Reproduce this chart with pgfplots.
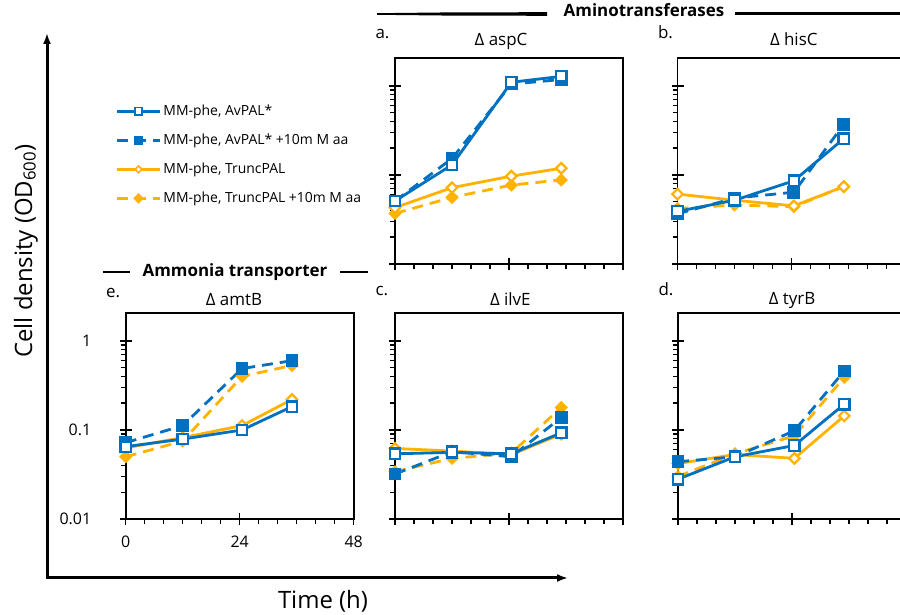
\documentclass[border=0pt]{standalone}
\usepackage{fontspec}
\setmainfont{Open Sans}
\usepackage{pgfplots}
\pgfplotsset{compat=1.18}
\usetikzlibrary{arrows.meta}

\definecolor{cblue}{HTML}{0070C0}
\definecolor{corange}{HTML}{FFB200}

\pgfplotsset{
  every axis/.append style={
    scale only axis, width=228bp, height=206bp,
    xmin=0, xmax=48, ymin=0.01, ymax=2.06,
    xtick={0,24,48}, minor x tick num=5,
    ytick={0.01,0.1,1},
    xtick pos=bottom, ytick pos=left,
    tick align=center, major tick length=12bp, minor tick length=5bp,
    minor x tick style={yshift=-2.5bp},
    minor y tick style={xshift=-2.5bp},
    axis line style={line width=1.8bp},
    tick style={line width=1.4bp, black},
    tick label style={font=\fontsize{16}{18}\selectfont},
    xticklabel style={yshift=-7bp},
    yticklabel style={xshift=-25bp},
    clip=false,
  },
  legend image code/.code={
    \draw[mark repeat=2,mark phase=2,#1] plot coordinates {(0bp,0bp) (21.5bp,0bp) (43bp,0bp)};
  },
  sA/.style={cblue, line width=2.8bp, solid, mark=square*, mark size=5.2bp,
    mark options={solid, fill=white, line width=2.3bp}},
  sB/.style={cblue, line width=2.8bp, dash pattern=on 11bp off 7bp, mark=square*, mark size=5bp,
    mark options={solid, fill=cblue}},
  sC/.style={corange, line width=2.8bp, solid, mark=square*, mark size=3.7bp,
    mark options={solid, rotate=45, fill=white, line width=2.2bp}},
  sD/.style={corange, line width=2.8bp, dash pattern=on 11bp off 7bp, mark=square*, mark size=3.3bp,
    mark options={solid, rotate=45, fill=corange}},
}
\newcommand{\ttl}[3]{\node[font=\fontsize{17}{19}\selectfont, anchor=base] at (axis description cs:#1,1) [yshift=#2] {#3};}
\newcommand{\lbl}[2]{\node[font=\fontsize{17}{19}\selectfont, anchor=base west] at (axis description cs:0,1) [xshift=-23bp, yshift=#1] {#2};}

\begin{document}
\begin{tikzpicture}
\path[use as bounding box] (0,0) rectangle (900bp,615bp);

% e. amtB
\begin{semilogyaxis}[at={(125.7bp,96bp)}, anchor=south west,
  xticklabels={0,24,48}, yticklabels={0.01,0.1,1},
  legend style={draw=none, fill=none, at={(-0.045,2.02)}, anchor=north west,
    font=\fontsize{14}{16}\selectfont, row sep=13bp, inner sep=0pt, nodes={inner sep=2bp}},
  legend cell align=left]
\addlegendimage{sA, mark size=3.6bp, mark options={solid, fill=white, line width=1.8bp}}
\addlegendentry{MM-phe, AvPAL*}
\addlegendimage{sB, mark size=3.3bp}
\addlegendentry{MM-phe, AvPAL* +10m M aa}
\addlegendimage{sC, mark size=2.4bp, mark options={solid, rotate=45, fill=white, line width=1.6bp}}
\addlegendentry{MM-phe, TruncPAL}
\addlegendimage{sD, mark size=2.3bp}
\addlegendentry{MM-phe, TruncPAL +10m M aa}
\addplot[sD, forget plot] coordinates {(0,0.050) (12,0.075) (24.5,0.40) (35,0.53)};
\addplot[sC, forget plot] coordinates {(0,0.063) (12,0.082) (24.5,0.112) (35,0.22)};
\addplot[sB, forget plot] coordinates {(0,0.072) (12,0.112) (24.5,0.49) (35,0.60)};
\addplot[sA, forget plot] coordinates {(0,0.065) (12,0.079) (24.5,0.100) (35,0.183)};
\ttl{0.475}{8bp}{Δ amtB}
\lbl{16bp}{e.}
\end{semilogyaxis}

% a. aspC
\begin{semilogyaxis}[at={(395bp,351bp)}, anchor=south west, xticklabels={}, yticklabels={}]
\addplot[sD] coordinates {(0,0.037) (12,0.056) (24.5,0.077) (35,0.088)};
\addplot[sC] coordinates {(0,0.043) (12,0.072) (24.5,0.097) (35,0.119)};
\addplot[sB] coordinates {(0,0.051) (12,0.153) (24.5,1.05) (35,1.18)};
\addplot[sA] coordinates {(0,0.051) (12,0.13) (24.5,1.10) (35,1.28)};
\ttl{0.465}{13bp}{Δ aspC}
\lbl{20bp}{a.}
\end{semilogyaxis}

% b. hisC
\begin{semilogyaxis}[at={(677.5bp,351bp)}, anchor=south west, xticklabels={}, yticklabels={}]
\addplot[sD] coordinates {(0,0.042) (12,0.046) (24.5,0.044) (35,0.074)};
\addplot[sC] coordinates {(0,0.061) (12,0.052) (24.5,0.045) (35,0.074)};
\addplot[sB] coordinates {(0,0.0366) (12,0.055) (24.5,0.064) (35,0.37)};
\addplot[sA] coordinates {(0,0.039) (12,0.052) (24.5,0.086) (35,0.256)};
\ttl{0.51}{13bp}{Δ hisC}
\lbl{20bp}{b.}
\end{semilogyaxis}

% c. ilvE
\begin{semilogyaxis}[at={(395bp,96bp)}, anchor=south west, xticklabels={}, yticklabels={}]
\addplot[sD] coordinates {(0,0.034) (12,0.048) (24.5,0.055) (35,0.179)};
\addplot[sC] coordinates {(0,0.062) (12,0.058) (24.5,0.053) (35,0.090)};
\addplot[sB] coordinates {(0,0.032) (12,0.057) (24.5,0.050) (35,0.138)};
\addplot[sA] coordinates {(0,0.054) (12,0.056) (24.5,0.054) (35,0.093)};
\ttl{0.506}{8bp}{Δ ilvE}
\lbl{18bp}{c.}
\end{semilogyaxis}

% d. tyrB
\begin{semilogyaxis}[at={(678bp,96bp)}, anchor=south west, xticklabels={}, yticklabels={}]
\addplot[sD] coordinates {(0,0.030) (12,0.054) (24.5,0.086) (35,0.39)};
\addplot[sC] coordinates {(0,0.042) (12,0.053) (24.5,0.048) (35,0.144)};
\addplot[sB] coordinates {(0,0.044) (12,0.050) (24.5,0.098) (35,0.46)};
\addplot[sA] coordinates {(0,0.028) (12,0.050) (24.5,0.067) (35,0.195)};
\ttl{0.50}{9bp}{Δ tyrB}
\lbl{18bp}{d.}
\end{semilogyaxis}

% headers
\fill (377bp,600.2bp) -- (450bp,599.4bp) -- (547bp,599.2bp) -- (547bp,602.8bp) -- (450bp,602.6bp) -- (377bp,601.8bp) -- cycle;
\draw[line width=3bp] (735bp,601bp) -- (905bp,601bp);
\node[font=\fontsize{17}{19}\selectfont\bfseries, anchor=base] at (644bp,598bp) {Aminotransferases};
\draw[line width=2.8bp] (103bp,343bp) -- (130bp,343bp);
\draw[line width=2.8bp] (340bp,343bp) -- (368bp,343bp);
\node[font=\fontsize{17}{19}\selectfont\bfseries, anchor=base] at (235bp,338bp) {Ammonia transporter};

% outer axes
\draw[line width=3bp, {Latex[length=11bp,width=8bp]}-{Latex[length=11bp,width=8bp]}] (47bp,582bp) -- (47bp,37bp) -- (568bp,37bp);
\node[font=\fontsize{24}{28}\selectfont, anchor=base] at (323bp,7bp) {Time (h)};
\node[font=\fontsize{24}{28}\selectfont, anchor=base, rotate=90] at (32bp,364bp) {Cell density (OD\textsubscript{600})};
\end{tikzpicture}
\end{document}
